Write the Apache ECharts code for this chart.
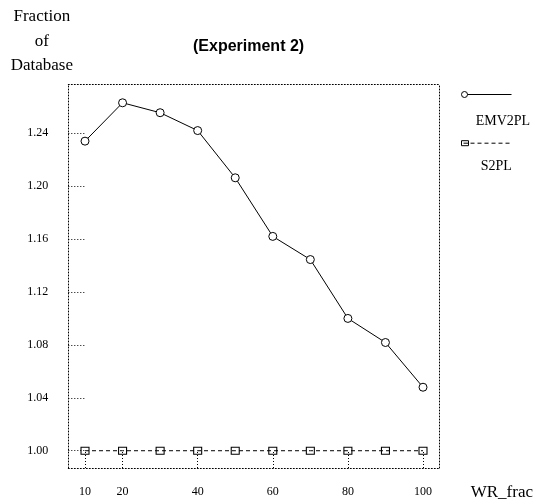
<!DOCTYPE html>
<html>
<head>
<meta charset="utf-8">
<script src="https://cdn.jsdelivr.net/npm/echarts@6/dist/echarts.min.js"></script>
<style>
  html, body { margin: 0; padding: 0; background: #fff; }
  #main { width: 536px; height: 501px; }
</style>
</head>
<body>
<div id="main"></div>
<script>
const wrFrac = [10, 20, 30, 40, 50, 60, 70, 80, 90, 100];
const emv2pl = [1.234, 1.263, 1.2555, 1.242, 1.2063, 1.162, 1.1445, 1.100, 1.0818, 1.048];
const s2pl = [1.00, 1.00, 1.00, 1.00, 1.00, 1.00, 1.00, 1.00, 1.00, 1.00];
const xTicks = [10, 20, 40, 60, 80, 100];
const yTicks = [1.00, 1.04, 1.08, 1.12, 1.16, 1.20, 1.24];

const serif = 'Liberation Serif';
const dotted = { color: '#000', width: 1, type: [1, 2] };

const chart = echarts.init(document.getElementById('main'));

// legend icons: marker at the left end of the line sample
const circleIcon = 'path://M0 3 A3 3 0 1 1 6 3 A3 3 0 1 1 0 3 Z M6 3 L50 3';
const squareIcon = 'path://M0 0 L7 0 L7 5 L0 5 Z M2 2.5 L7 2.5 M9 2.5 L13 2.5 M16 2.5 L20 2.5 M23 2.5 L27 2.5 M30 2.5 L34 2.5 M37 2.5 L41 2.5 M44 2.5 L48 2.5';

const option = {
  animation: false,
  backgroundColor: '#fff',
  title: {
    text: '(Experiment 2)',
    left: 193,
    top: 38.7,
    padding: 0,
    textStyle: { fontFamily: 'Liberation Sans', fontWeight: 'bold', fontSize: 16, lineHeight: 16, color: '#000' }
  },
  legend: [
    {
      data: [{ name: 'EMV2PL', icon: circleIcon }],
      left: 461, top: 91, itemWidth: 50, itemHeight: 6, selectedMode: false,
      formatter: () => '', padding: 0,
      itemStyle: { color: '#fff', borderColor: '#000', borderWidth: 1 },
      textStyle: { fontSize: 6, lineHeight: 6 }
    },
    {
      data: [{ name: 'S2PL', icon: squareIcon }],
      left: 461, top: 140.2, itemWidth: 48, itemHeight: 5, selectedMode: false,
      formatter: () => '', padding: 0,
      itemStyle: { color: 'rgba(0,0,0,0)', borderColor: '#000', borderWidth: 1 },
      textStyle: { fontSize: 5, lineHeight: 5 }
    },
    {
      data: [{ name: 'EMV2PL', icon: 'none' }],
      left: 470.7, top: 114, itemWidth: 0, itemHeight: 14, selectedMode: false, padding: 0,
      textStyle: { fontFamily: serif, fontSize: 14, lineHeight: 14, color: '#000' }
    },
    {
      data: [{ name: 'S2PL', icon: 'none' }],
      left: 475.7, top: 159.7, itemWidth: 0, itemHeight: 14, selectedMode: false, padding: 0,
      textStyle: { fontFamily: serif, fontSize: 14, lineHeight: 14, color: '#000' }
    }
  ],
  grid: { left: 68.3, right: 97, top: 84, bottom: 30.3, containLabel: false },
  xAxis: [
    {
      type: 'value', min: 5.55, max: 104.26,
      name: 'WR_frac', nameLocation: 'end', nameGap: 31.7,
      nameTextStyle: { fontFamily: serif, fontSize: 17, lineHeight: 17, color: '#000', align: 'left', verticalAlign: 'top', padding: [16, 0, 0, 0] },
      axisLine: { onZero: false, lineStyle: dotted },
      axisTick: { inside: true, length: 17, customValues: xTicks, lineStyle: dotted },
      axisLabel: { customValues: xTicks, margin: 18, fontFamily: serif, fontSize: 12, color: '#000' },
      splitLine: { show: false }
    },
    {
      type: 'value', min: 5.55, max: 104.26, position: 'top',
      axisLine: { onZero: false, lineStyle: dotted },
      axisTick: { show: false }, axisLabel: { show: false }, splitLine: { show: false }
    }
  ],
  yAxis: [
    {
      type: 'value', min: 0.98694, max: 1.2772,
      name: 'Fraction\nof\nDatabase', nameLocation: 'end', nameGap: 6,
      nameTextStyle: { fontFamily: serif, fontSize: 17, lineHeight: 24.5, color: '#000', align: 'center', verticalAlign: 'bottom', padding: [0, 53, 0, 0] },
      axisLine: { onZero: false, lineStyle: dotted },
      axisTick: { inside: true, length: 18, customValues: yTicks, lineStyle: dotted },
      axisLabel: { customValues: yTicks, margin: 20, fontFamily: serif, fontSize: 12, color: '#000', formatter: v => v.toFixed(2) },
      splitLine: { show: false }
    },
    {
      type: 'value', min: 0.98694, max: 1.2772, position: 'right',
      axisLine: { onZero: false, lineStyle: dotted },
      axisTick: { show: false }, axisLabel: { show: false }, splitLine: { show: false }
    }
  ],
  series: [
    {
      name: 'EMV2PL', type: 'line',
      data: wrFrac.map((x, i) => [x, emv2pl[i]]),
      symbol: 'circle', symbolSize: 8,
      itemStyle: { color: '#fff', borderColor: '#000', borderWidth: 1 },
      lineStyle: { color: '#000', width: 1 }
    },
    {
      name: 'S2PL', type: 'line',
      data: wrFrac.map((x, i) => [x, s2pl[i]]),
      symbol: 'rect', symbolSize: [8, 7],
      itemStyle: { color: 'rgba(0,0,0,0)', borderColor: '#000', borderWidth: 1 },
      lineStyle: { color: '#000', width: 1, type: [4, 3] }
    }
  ]
};

chart.setOption(option);
</script>
</body>
</html>
